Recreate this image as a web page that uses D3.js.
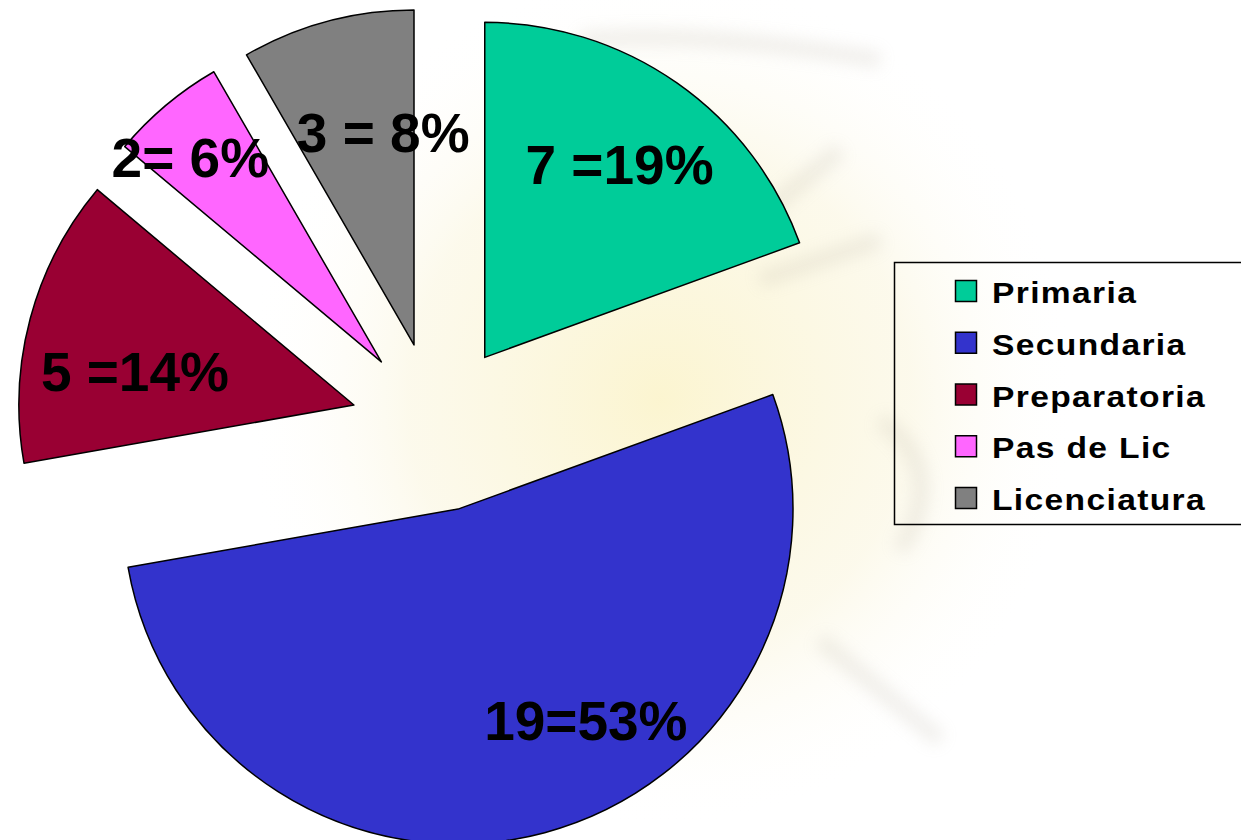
<!DOCTYPE html>
<html>
<head>
<meta charset="utf-8">
<script src="https://cdn.jsdelivr.net/npm/d3@7"></script>
<style>
  html, body { margin: 0; padding: 0; background: #ffffff; }
  svg { display: block; }
  text { font-family: "Liberation Sans", Arial, sans-serif; font-weight: bold; }
</style>
</head>
<body>
<svg id="chart" width="1241" height="840"></svg>
<script>
// ---- data ----
const categories = ["Primaria", "Secundaria", "Preparatoria", "Pas de Lic", "Licenciatura"];
const counts = [7, 19, 5, 2, 3];
const sliceLabels = ["7 =19%", "19=53%", "5 =14%", "2= 6%", "3 = 8%"];
const colors = ["#00CC99", "#3333CC", "#990033", "#FF66FF", "#808080"];

// ---- layout ----
const W = 1241, H = 840;
const cx = 436, cy = 427, R = 335, explode = 85, labelR = 235;
const labelNudge = [[0, 0], [67, -16], [8, 27], [-40, -24], [30, 15]];

const svg = d3.select("#chart");

// faint watermark-like background
const defs = svg.append("defs");
const rg = defs.append("radialGradient").attr("id", "wm")
  .attr("cx", "50%").attr("cy", "50%").attr("r", "50%");
rg.append("stop").attr("offset", "0%").attr("stop-color", "#fbf3c8").attr("stop-opacity", 0.85);
rg.append("stop").attr("offset", "60%").attr("stop-color", "#faf5dc").attr("stop-opacity", 0.55);
rg.append("stop").attr("offset", "100%").attr("stop-color", "#ffffff").attr("stop-opacity", 0);
const bg = svg.append("g").attr("class", "watermark");
bg.append("ellipse").attr("cx", 660).attr("cy", 400).attr("rx", 420).attr("ry", 430).attr("fill", "url(#wm)");
const blob = defs.append("filter").attr("id", "blur").attr("x", "-20%").attr("y", "-20%").attr("width", "140%").attr("height", "140%");
blob.append("feGaussianBlur").attr("stdDeviation", 8);
const wmg = bg.append("g").attr("filter", "url(#blur)").attr("opacity", 0.2).attr("fill", "none").attr("stroke", "#b8b0a0").attr("stroke-width", 16);
wmg.append("path").attr("d", "M 820 640 L 940 740");
wmg.append("path").attr("d", "M 840 150 L 720 250");
wmg.append("path").attr("d", "M 760 280 L 880 240");
wmg.append("path").attr("d", "M 880 420 Q 950 470 900 550");
wmg.append("path").attr("d", "M 580 40 Q 700 30 880 60");

// ---- pie ----
const pie = d3.pie().sort(null).value(d => d).startAngle(0).endAngle(2 * Math.PI);
const arcs = pie(counts);
const arc = d3.arc().innerRadius(0).outerRadius(R);

const g = svg.append("g").attr("transform", `translate(${cx},${cy})`);
const offset = d => {
  const m = (d.startAngle + d.endAngle) / 2;
  return [explode * Math.sin(m), -explode * Math.cos(m)];
};

g.selectAll("path.slice").data(arcs).join("path")
  .attr("class", "slice")
  .attr("d", arc)
  .attr("transform", d => `translate(${offset(d)})`)
  .attr("fill", (d, i) => colors[i])
  .attr("stroke", "#000")
  .attr("stroke-width", 1.5)
  .attr("stroke-linejoin", "round");

g.selectAll("text.lbl").data(arcs).join("text")
  .attr("class", "lbl")
  .attr("text-anchor", "middle")
  .attr("font-size", 55)
  .attr("fill", "#000")
  .attr("x", (d, i) => {
    const m = (d.startAngle + d.endAngle) / 2;
    return offset(d)[0] + labelR * Math.sin(m) + labelNudge[i][0];
  })
  .attr("y", (d, i) => {
    const m = (d.startAngle + d.endAngle) / 2;
    return offset(d)[1] - labelR * Math.cos(m) + labelNudge[i][1] + 19.5;
  })
  .text((d, i) => sliceLabels[i]);

// ---- legend ----
const legend = svg.append("g").attr("class", "legend");
legend.append("rect")
  .attr("x", 894.5).attr("y", 262.5).attr("width", 400).attr("height", 262)
  .attr("fill", "none").attr("stroke", "#000").attr("stroke-width", 1.5);

const ly = d3.scaleBand().domain(categories).range([280, 280 + 5 * 51.75]);
const items = legend.selectAll("g.item").data(categories).join("g").attr("class", "item");
items.append("rect")
  .attr("x", 955.5).attr("y", d => ly(d) + 0.5)
  .attr("width", 21).attr("height", 21)
  .attr("fill", (d, i) => colors[i])
  .attr("stroke", "#000").attr("stroke-width", 1.5);
items.append("text")
  .attr("transform", d => `translate(992,${ly(d) + 23}) scale(1.12,1)`)
  .attr("font-size", 30)
  .attr("letter-spacing", 1.2)
  .attr("fill", "#000")
  .text(d => d);
</script>
</body>
</html>
